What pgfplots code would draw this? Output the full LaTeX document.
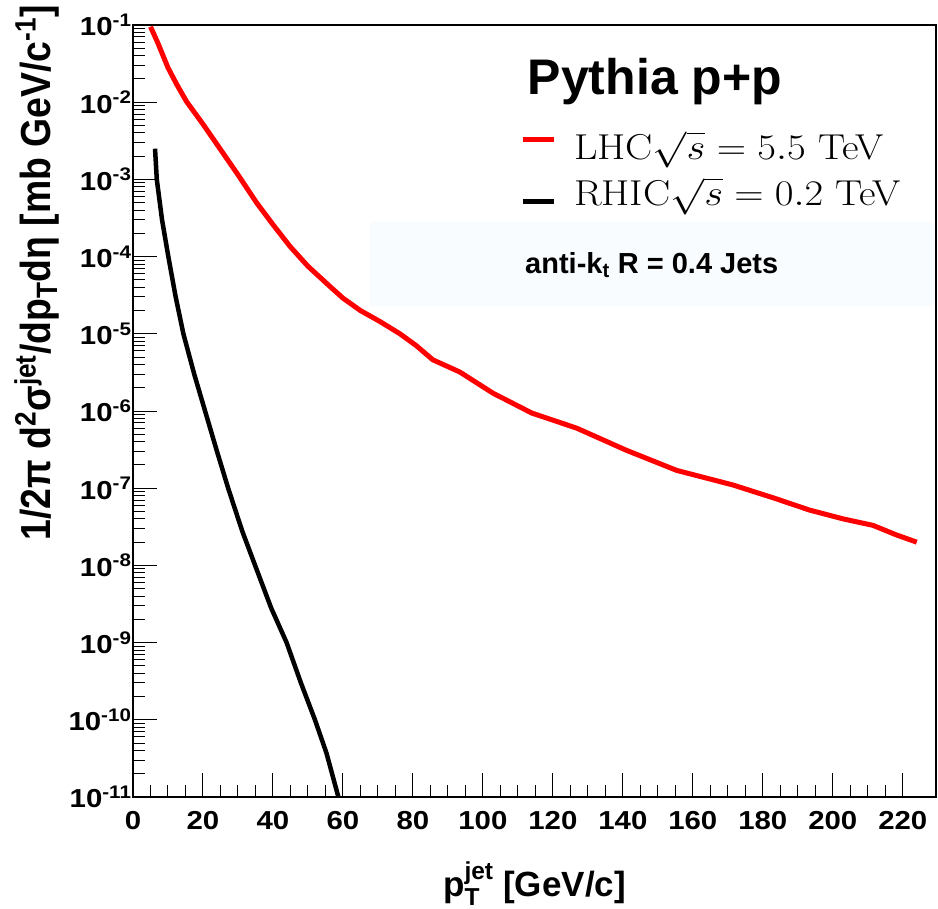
\RequirePackage{fix-cm}
\documentclass[border=0pt]{standalone}
\usepackage{amsmath}
\usepackage{graphicx}
\usepackage{fontspec}
\usepackage{pgfplots}
\pgfplotsset{compat=1.18}
\newfontfamily\hv{Liberation Sans}
\newfontfamily\hvw[FakeStretch=1.13]{Liberation Sans}
\newfontfamily\hvn[FakeStretch=0.89]{Liberation Sans}
\newcommand\tlf{\hvw\bfseries\fontsize{26}{26}\selectfont}
\definecolor{faintblue}{RGB}{248,252,254}
\begin{document}
\begin{tikzpicture}
\begin{axis}[
  scale only axis, width=803pt, height=772pt,
  ymode=log, xmin=0, xmax=229.5, ymin=1e-11, ymax=1e-1,
  axis line style={line width=1.3pt},
  xtick={0,20,...,220}, minor x tick num=3,
  ytick={1e-11,1e-10,1e-9,1e-8,1e-7,1e-6,1e-5,1e-4,1e-3,1e-2,1e-1},
  yticklabels={10\textsuperscript{-11},10\textsuperscript{-10},10\textsuperscript{-9},10\textsuperscript{-8},10\textsuperscript{-7},10\textsuperscript{-6},10\textsuperscript{-5},10\textsuperscript{-4},10\textsuperscript{-3},10\textsuperscript{-2},10\textsuperscript{-1}},
  tick align=inside, xtick pos=bottom, ytick pos=left,
  major tick length=24pt, minor tick length=12pt,
  every tick/.style={line width=1pt, black},
  /pgf/number format/assume math mode=true,
  xticklabel style={font=\tlf, yshift=-11pt},
  yticklabel style={font=\tlf, xshift=2pt},
  every axis y label/.style={at={(axis description cs:-0.1196,1.026)}, rotate=90, anchor=east, inner sep=0pt},
  every axis x label/.style={at={(axis description cs:0.5,-0.112)}, anchor=center},
  ylabel={\hvn\bfseries\fontsize{42}{42}\selectfont 1/2π d\textsuperscript{2}σ\textsuperscript{jet}/dp\textsubscript{T}dη [mb GeV/c\textsuperscript{-1}]},
  xlabel={\hv\bfseries\fontsize{35}{35}\selectfont $\text{p}^{\text{jet}}_{\text{T}}$ [GeV/c]},
  legend style={at={(rel axis cs:0.478,0.868)}, anchor=north west, draw=none, fill=none,
    font=\fontsize{36}{40}\selectfont, row sep=12pt,
    /tikz/every odd column/.append style={column sep=16pt}},
  legend cell align=left,
]
\fill[faintblue] (rel axis cs:0.295,0.636) rectangle (rel axis cs:0.998,0.745);
\addplot[red, line width=5pt, line join=round,
  legend image code/.code={\draw[red, line width=5pt] (0pt,7pt) -- (31pt,7pt);}] coordinates {
(5,0.095) (7,0.06) (10,0.028) (12.5,0.017) (15.3,0.0102) (20,5.2e-3)
(25.7,2.2e-3) (30,1.15e-3) (35.3,5.0e-4) (40,2.6e-4) (44.9,1.35e-4)
(50,7.5e-5) (56.3,4.1e-5) (60,2.9e-5) (65,2.0e-5) (70.6,1.44e-5)
(76.3,1.0e-5) (81,7.0e-6) (85.7,4.6e-6) (93.4,3.2e-6) (102.9,1.7e-6)
(114,9.4e-7) (126.8,6.0e-7) (141,3.1e-7) (155.4,1.7e-7) (171.5,1.1e-7)
(183,7.5e-8) (193.4,5.2e-8) (203,4.0e-8) (211.5,3.3e-8) (218,2.5e-8) (224,2.0e-8)
};
\addlegendentry{\scalebox{1.13}[1]{LHC$\sqrt{s}=5.5$ TeV}}
\addplot[black, line width=4.5pt, line join=round,
  legend image code/.code={\draw[black, line width=5pt] (0pt,-9pt) -- (31pt,-9pt);}] coordinates {
(6.3,2.5e-3) (6.8,1e-3) (8.3,3e-4) (10.1,1e-4) (12.2,3e-5) (14.4,1e-5)
(17.5,3e-6) (20.6,1e-6) (24,3e-7) (27.2,1e-7) (31.2,2.8e-8) (34.9,1e-8)
(39.5,2.8e-9) (43.9,1e-9) (48,3e-10) (52.0,1e-10) (55.3,3.7e-11) (58.7,1e-11)
};
\addlegendentry{\scalebox{1.13}[1]{RHIC$\sqrt{s}=0.2$ TeV}}
\node[font=\hv\bfseries\fontsize{50}{50}\selectfont, inner sep=1pt] at (rel axis cs:0.650,0.927) {Pythia p+p};
\node[font=\hv\bfseries\fontsize{29}{29}\selectfont] at (rel axis cs:0.646,0.689) {anti-k\textsubscript{t} R = 0.4 Jets};
\end{axis}
\pgfresetboundingbox
\path[use as bounding box] ([xshift=-133pt,yshift=-112pt]current axis.south west) rectangle ([xshift=2pt,yshift=25pt]current axis.north east);
\end{tikzpicture}
\end{document}
